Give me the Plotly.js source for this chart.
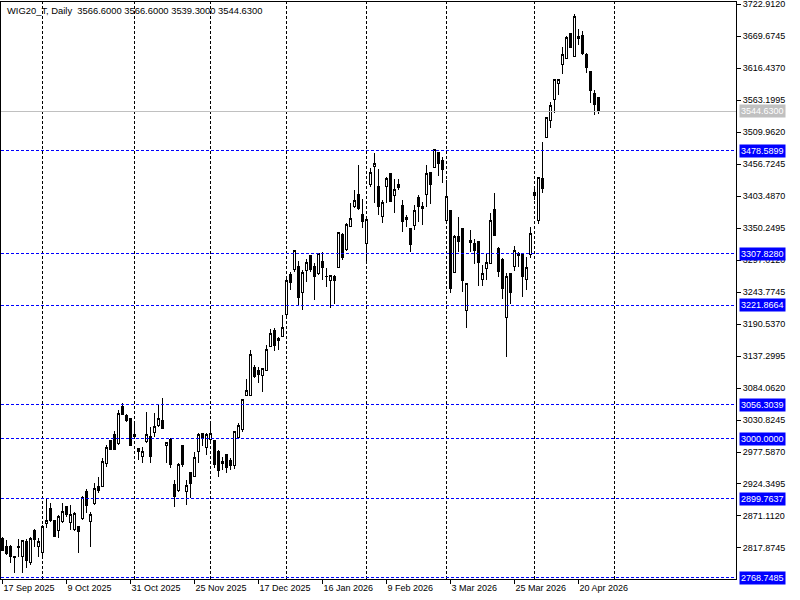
<!DOCTYPE html>
<html>
<head>
<meta charset="utf-8">
<script src="https://cdn.plot.ly/plotly-3.0.1.min.js"></script>
<style>
  html, body { margin: 0; padding: 0; background: #ffffff; }
  #chart { width: 800px; height: 600px; }
  #chart path { shape-rendering: crispEdges; }
</style>
</head>
<body>
<div id="chart"></div>
<script>
// ---- Data (WIG20_T, Daily) ----
const dates = [
  "2025-09-17","2025-09-18","2025-09-19","2025-09-22","2025-09-23","2025-09-24","2025-09-25","2025-09-26","2025-09-29","2025-09-30",
  "2025-10-01","2025-10-02","2025-10-03","2025-10-06","2025-10-07","2025-10-08","2025-10-09","2025-10-10","2025-10-13","2025-10-14",
  "2025-10-15","2025-10-16","2025-10-17","2025-10-20","2025-10-21","2025-10-22","2025-10-23","2025-10-24","2025-10-27","2025-10-28",
  "2025-10-29","2025-10-30","2025-10-31",
  "2025-11-03","2025-11-04","2025-11-05","2025-11-06","2025-11-07","2025-11-10","2025-11-12","2025-11-13","2025-11-14","2025-11-17",
  "2025-11-18","2025-11-19","2025-11-20","2025-11-21","2025-11-24","2025-11-25","2025-11-26","2025-11-27","2025-11-28",
  "2025-12-01","2025-12-02","2025-12-03","2025-12-04","2025-12-05","2025-12-08","2025-12-09","2025-12-10","2025-12-11","2025-12-12",
  "2025-12-15","2025-12-16","2025-12-17","2025-12-18","2025-12-19","2025-12-22","2025-12-23","2025-12-29","2025-12-30",
  "2026-01-02","2026-01-05","2026-01-07","2026-01-08","2026-01-09","2026-01-12","2026-01-13","2026-01-14","2026-01-15","2026-01-16",
  "2026-01-19","2026-01-20","2026-01-21","2026-01-22","2026-01-23","2026-01-26","2026-01-27","2026-01-28","2026-01-29","2026-01-30",
  "2026-02-02","2026-02-03","2026-02-04","2026-02-05","2026-02-06","2026-02-09","2026-02-10","2026-02-11","2026-02-12","2026-02-13",
  "2026-02-16","2026-02-17","2026-02-18","2026-02-19","2026-02-20","2026-02-23","2026-02-24","2026-02-25","2026-02-26","2026-02-27",
  "2026-03-02","2026-03-03","2026-03-04","2026-03-05","2026-03-06","2026-03-09","2026-03-10","2026-03-11","2026-03-12","2026-03-13",
  "2026-03-16","2026-03-17","2026-03-18","2026-03-19","2026-03-20","2026-03-23","2026-03-24","2026-03-25","2026-03-26","2026-03-27",
  "2026-03-30","2026-03-31",
  "2026-04-01","2026-04-02","2026-04-07","2026-04-08","2026-04-09","2026-04-10","2026-04-13","2026-04-14","2026-04-15","2026-04-16",
  "2026-04-17","2026-04-20","2026-04-21","2026-04-22","2026-04-23","2026-04-24","2026-04-27"
];

const open = [
  2833.9,2821.1,2821.1,2801.5,2821.1,2803.4,2828.4,2793.4,2847.8,2821.1,
  2810.1,2858.9,2883.8,2862.8,2847.8,2861.7,2886.6,2860.6,2848.9,2853.3,
  2867.2,2911.6,2861.7,2892.2,2919.9,2921.0,2958.7,2996.4,3007.5,2990.9,
  3053.0,3039.1,3033.6,3004.2,2983.7,2970.9,2994.8,3003.1,3009.7,3022.5,
  3030.8,2989.2,2998.6,2924.3,2913.2,2989.2,2911.6,2943.2,2937.6,2978.1,
  3008.7,2985.4,2998.7,2996.4,2979.2,2961.5,2972.6,2964.2,2954.8,3002.0,
  3014.2,3072.4,3071.3,3117.9,3114.0,3104.6,3114.0,3152.8,3178.9,3163.9,
  3169.4,3206.6,3272.1,3280.4,3287.0,3242.6,3279.3,3304.8,3287.0,3274.8,
  3293.7,3269.9,3262.6,3269.3,3284.8,3339.7,3314.7,3352.4,3385.7,3406.8,
  3373.5,3324.7,3421.8,3452.3,3420.1,3369.1,3419.0,3440.1,3405.1,3422.9,
  3388.5,3367.9,3348.6,3353.6,3401.2,3385.7,3406.3,3442.8,3451.2,3475.6,
  3462.3,3363.5,3379.1,3275.9,3335.8,3349.7,3212.7,3329.2,3324.7,3328.6,
  3264.8,3283.1,3291.5,3381.8,3316.4,3298.6,3201.6,3274.8,3285.9,3305.3,
  3308.1,3264.8,3306.9,3409.0,3363.5,3432.9,3501.1,3528.8,3564.3,3590.9,
  3622.5,3632.5,3674.1,3636.4,3668.6,3669.7,3639.7,3610.3,3574.3,3566.6
];

const high = [
  2836.7,2831.1,2822.8,2804.0,2832.3,2830.5,2832.3,2836.7,2848.9,2833.9,
  2856.1,2898.8,2892.2,2864.4,2872.8,2892.2,2887.5,2889.4,2878.3,2853.5,
  2904.4,2915.5,2878.3,2925.4,2935.4,2967.0,2989.2,2997.5,3013.1,3047.5,
  3058.6,3041.0,3034.0,3028.0,2984.5,2986.4,3044.7,3019.7,3041.9,3055.8,
  3066.9,2994.8,3000.3,2931.0,2959.8,2989.5,2931.0,2944.8,2978.1,3008.7,
  3009.7,3008.7,3026.4,2997.5,2980.9,2969.8,2972.6,2967.0,3012.5,3026.4,
  3065.2,3098.5,3147.3,3122.3,3119.5,3116.8,3155.6,3181.6,3183.3,3169.4,
  3205.5,3264.8,3277.6,3313.6,3295.0,3280.4,3298.6,3305.3,3291.5,3309.2,
  3310.9,3283.1,3272.0,3272.0,3344.1,3341.4,3358.0,3392.4,3413.5,3455.1,
  3397.9,3369.1,3449.5,3474.5,3447.8,3396.8,3434.5,3441.0,3431.2,3431.2,
  3396.8,3371.9,3349.7,3388.5,3405.1,3394.0,3455.1,3444.0,3481.1,3477.2,
  3468.9,3430.1,3380.2,3338.6,3368.0,3349.7,3259.3,3346.9,3331.4,3328.6,
  3288.7,3307.0,3375.8,3407.9,3318.1,3299.8,3276.0,3274.8,3320.3,3310.9,
  3308.1,3302.5,3351.3,3419.0,3435.6,3493.9,3535.5,3560.4,3598.7,3597.6,
  3651.9,3669.7,3675.2,3706.3,3680.8,3678.6,3640.8,3610.3,3579.8,3566.6
];

const low = [
  2813.4,2806.2,2793.4,2775.7,2803.4,2775.7,2784.0,2789.6,2820.1,2803.4,
  2803.4,2850.6,2861.7,2836.7,2833.9,2858.9,2870.0,2847.8,2846.7,2808.9,
  2864.4,2875.5,2820.1,2889.4,2908.8,2919.9,2953.2,2980.9,2980.9,2989.2,
  3039.1,3028.0,2987.6,3003.1,2964.3,2959.8,2992.0,2959.8,3003.1,3018.6,
  3016.0,2958.7,2950.4,2886.6,2911.6,2952.1,2889.4,2900.5,2936.5,2959.8,
  2987.0,2972.8,2996.0,2950.4,2936.5,2947.6,2942.1,2947.6,2948.7,3000.3,
  3011.4,3070.7,3070.7,3100.1,3092.9,3077.9,3112.9,3151.7,3146.1,3147.3,
  3168.3,3203.8,3247.1,3277.6,3220.0,3213.8,3260.9,3277.6,3230.4,3272.0,
  3263.7,3252.6,3216.6,3223.8,3283.1,3297.0,3312.5,3351.3,3383.0,3380.2,
  3349.7,3294.2,3419.0,3392.4,3371.9,3359.1,3392.4,3393.0,3375.8,3413.5,
  3344.1,3352.4,3310.9,3346.9,3360.8,3355.2,3385.7,3390.2,3449.5,3436.7,
  3425.7,3362.4,3242.6,3274.8,3310.9,3244.3,3183.3,3310.9,3290.3,3253.7,
  3253.7,3263.7,3290.3,3338.6,3268.1,3231.6,3136.2,3223.8,3279.2,3285.9,
  3235.9,3247.1,3299.8,3396.8,3356.3,3407.9,3499.4,3516.0,3541.0,3571.5,
  3606.5,3630.8,3649.2,3635.3,3654.7,3638.1,3607.6,3557.6,3538.2,3539.3
];

const close = [
  2814.5,2808.9,2803.4,2803.4,2819.0,2830.0,2797.9,2833.9,2831.2,2829.5,
  2853.3,2862.8,2864.4,2837.8,2871.1,2879.4,2874.4,2874.4,2875.5,2845.0,
  2902.2,2889.4,2874.4,2917.1,2913.2,2961.5,2985.3,2982.0,2982.0,3041.9,
  3040.8,3029.7,2989.2,3007.5,2978.1,2979.2,3007.5,2969.8,3020.8,3033.6,
  3016.9,2993.1,2957.6,2903.3,2957.6,2957.6,2922.6,2925.4,2968.7,3005.9,
  3000.4,3007.5,3008.7,2956.0,2946.5,2958.7,2951.5,2954.3,3012.5,3022.5,
  3064.1,3080.7,3139.0,3104.0,3105.7,3116.8,3148.9,3175.0,3155.6,3167.2,
  3185.0,3263.7,3259.3,3313.6,3234.5,3277.0,3293.1,3280.4,3269.3,3308.1,
  3284.2,3269.3,3270.4,3262.6,3343.0,3301.4,3356.9,3366.3,3395.2,3383.0,
  3360.8,3365.2,3442.8,3457.8,3386.8,3392.9,3432.9,3394.0,3414.6,3417.3,
  3360.8,3364.6,3323.6,3380.2,3385.7,3383.0,3441.2,3422.9,3481.1,3457.8,
  3447.8,3402.4,3249.9,3335.8,3327.5,3262.6,3257.1,3326.9,3312.5,3292.6,
  3274.8,3293.1,3361.9,3338.6,3277.6,3249.9,3269.3,3242.6,3312.5,3308.1,
  3269.3,3284.8,3341.4,3405.1,3434.5,3416.2,3534.4,3554.8,3597.6,3597.6,
  3638.1,3667.4,3650.3,3702.9,3665.8,3640.8,3617.5,3579.8,3556.5,3544.63
];

// x-axis labels
const tickDates = ["2025-09-17","2025-10-09","2025-10-31","2025-11-25","2025-12-17",
                   "2026-01-16","2026-02-09","2026-03-03","2026-03-25","2026-04-20"];
const tickLabels = ["17 Sep 2025","9 Oct 2025","31 Oct 2025","25 Nov 2025","17 Dec 2025",
                    "16 Jan 2026","9 Feb 2026","3 Mar 2026","25 Mar 2026","20 Apr 2026"];

// price scale labels
const yTickLabels = ["3722.9120","3669.6745","3616.4370","3563.1995","3509.9620","3456.7245",
                     "3403.4870","3350.2495","3297.0120","3243.7745","3190.5370","3137.2995",
                     "3084.0620","3030.8245","2977.5870","2924.3495","2871.1120","2817.8745"];

// horizontal levels (blue dashed)
const levels = [3478.5899, 3307.8280, 3221.8664, 3056.3039, 3000.0000, 2899.7637, 2768.7485];
const bidPrice = 3544.63;

// monthly period separators (first trading day of each month)
const separatorDates = ["2025-10-01","2025-11-03","2025-12-01","2026-01-02","2026-02-02","2026-03-02","2026-04-01"];
const futureSeparatorBarsAhead = 4; // May 2026 separator, 4 bars after the last bar

const headerText = "WIG20_T, Daily\u00a0\u00a03566.6000 3566.6000 3539.3000 3544.6300";

// ---- Build chart ----
const FONT = "Liberation Sans, Arial, sans-serif";

const trace = {
  type: "candlestick",
  x: dates, open: open, high: high, low: low, close: close,
  increasing: { line: { color: "#000000", width: 1 }, fillcolor: "#FFFFFF" },
  decreasing: { line: { color: "#000000", width: 1 }, fillcolor: "#000000" },
  whiskerwidth: 0,
  hoverinfo: "none",
  showlegend: false
};

const shapes = [];
const sepIdx = separatorDates.map(d => dates.indexOf(d));
sepIdx.push(dates.length - 1 + futureSeparatorBarsAhead);
sepIdx.forEach(ix => {
  shapes.push({ type: "line", xref: "x", yref: "paper", x0: ix, x1: ix, y0: 0, y1: 1,
    line: { color: "#000000", width: 1, dash: "3px,2px" }, layer: "below" });
});
levels.forEach(v => {
  shapes.push({ type: "line", xref: "paper", yref: "y", x0: 0, x1: 1, y0: v, y1: v,
    line: { color: "#0000FF", width: 1, dash: "3px,2px" }, layer: "above" });
});
shapes.push({ type: "line", xref: "paper", yref: "y", x0: 0, x1: 1, y0: bidPrice, y1: bidPrice,
  line: { color: "#C0C0C0", width: 1 }, layer: "above" });

const annotations = [];
annotations.push({ xref: "paper", yref: "paper", x: 0, y: 1, xanchor: "left", yanchor: "top",
  xshift: 4, yshift: -1, text: headerText, showarrow: false,
  font: { family: FONT, size: 9.4, color: "#000000" } });
levels.forEach(v => {
  annotations.push({ xref: "paper", yref: "y", x: 1, y: v, xanchor: "left", yanchor: "middle",
    xshift: 3, text: v.toFixed(4), showarrow: false, bgcolor: "#0000FF", borderpad: 1,
    font: { family: FONT, size: 9, color: "#FFFFFF" } });
});
annotations.push({ xref: "paper", yref: "y", x: 1, y: bidPrice, xanchor: "left", yanchor: "middle",
  xshift: 3, text: bidPrice.toFixed(4), showarrow: false, bgcolor: "#C0C0C0", borderpad: 1,
  font: { family: FONT, size: 9, color: "#FFFFFF" } });

const layout = {
  width: 800, height: 600,
  margin: { l: 1, r: 64, t: 2, b: 21, pad: 0 },
  paper_bgcolor: "#FFFFFF", plot_bgcolor: "#FFFFFF",
  showlegend: false,
  boxgap: 0.5,
  dragmode: false,
  xaxis: {
    type: "category",
    range: [-0.375, 183.375],
    tickvals: tickDates, ticktext: tickLabels,
    ticks: "outside", ticklen: 4, tickcolor: "#000000",
    ticklabelposition: "outside right",
    ticklabeloverflow: "allow",
    tickfont: { family: FONT, size: 9, color: "#000000" },
    showgrid: false, zeroline: false,
    showline: true, linecolor: "#000000", linewidth: 1, mirror: true,
    rangeslider: { visible: false },
    fixedrange: true
  },
  yaxis: {
    side: "right",
    range: [2766.29, 3726.24],
    tickvals: yTickLabels.map(Number), ticktext: yTickLabels,
    ticks: "outside", ticklen: 4, tickcolor: "#000000",
    ticklabeloverflow: "allow",
    tickfont: { family: FONT, size: 9, color: "#000000" },
    showgrid: false, zeroline: false,
    showline: true, linecolor: "#000000", linewidth: 1, mirror: true,
    fixedrange: true
  },
  shapes: shapes,
  annotations: annotations
};

Plotly.newPlot("chart", [trace], layout, { displayModeBar: false, staticPlot: true });
</script>
</body>
</html>
